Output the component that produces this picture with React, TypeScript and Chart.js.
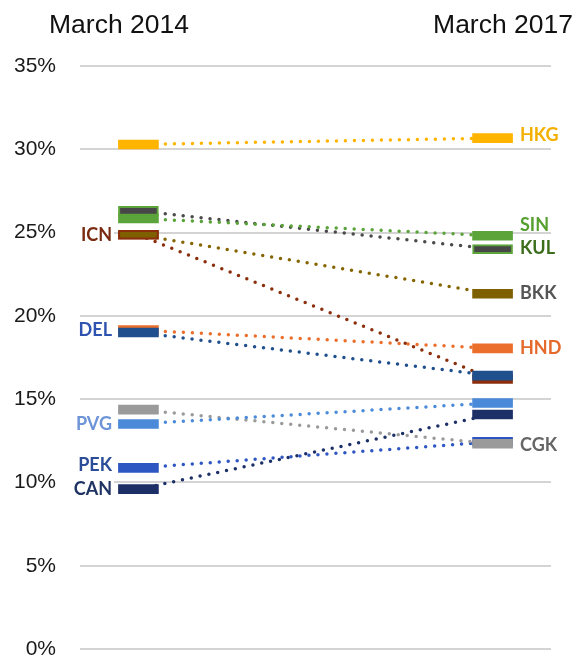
import React, { useEffect, useRef } from "react";
import { Chart, registerables } from "chart.js";

Chart.register(...registerables);

// Airport hub share, March 2014 vs March 2017 (percent)
const airports = ["HKG", "SIN", "KUL", "BKK", "ICN", "HND", "DEL", "PVG", "CGK", "PEK", "CAN"];
const share2014 = [30.29, 25.85, 26.3, 24.87, 24.87, 19.15, 19.0, 13.51, 14.37, 10.87, 9.6];
const share2017 = [30.67, 24.81, 24.01, 21.33, 16.22, 18.05, 16.41, 14.77, 12.32, 12.44, 14.08];
const yTicks = [0, 5, 10, 15, 20, 25, 30, 35];
const periodLabels = ["March 2014", "March 2017"];

// Styling per airport
const barColors = ["#FFB400", "#5AA43A", "#474747", "#7F6000", "#8B2E0C", "#EB6E2B", "#1F4F8C", "#4A8AD8", "#9A9A9A", "#2E56C2", "#1C3067"];
const lineColors = ["#FFB400", "#5AA43A", "#4A4A4A", "#856500", "#8B2E0C", "#EB6E2B", "#1F4F8C", "#4A8AD8", "#9A9A9A", "#2E56C2", "#1C3067"];
const labelColors = ["#F4B000", "#55A02F", "#3C6E1E", "#555555", "#7A2A10", "#E4692A", "#2E54B0", "#6C94D6", "#666666", "#2B4D98", "#1F3463"];
const labelSide = ["R", "R", "R", "R", "L", "R", "L", "L", "R", "L", "L"];
const labelNudge = [-2.5, -10.3, -0.5, -0.7, 0, 0, -2.5, 0, 1.7, -2.5, 0];
const barOnTop = [1, 2, 1, 1, 2, 2, 1, 2, 1, 2, 2];

const BAR_HALF = 0.27; // half of a marker's height, in percent
const FONT_AXIS = "'Liberation Sans', Arial, sans-serif";
const FONT_LABEL = "Lato, 'Open Sans', sans-serif";

const textPlugin = {
  id: "hubText",
  afterDatasetsDraw(chart: any) {
    const { ctx, scales } = chart;
    const y = scales.y;
    ctx.save();
    // period headers
    ctx.fillStyle = "#111111";
    ctx.font = `26.5px ${FONT_AXIS}`;
    ctx.textBaseline = "alphabetic";
    ctx.textAlign = "left";
    ctx.fillText(periodLabels[0], 49, 33);
    ctx.textAlign = "right";
    ctx.fillText(periodLabels[1], 573, 33);

    // airport labels
    ctx.font = `bold 18px ${FONT_LABEL}`;
    ctx.textBaseline = "middle";
    airports.forEach((code, i) => {
      const left = labelSide[i] === "L";
      const v = left ? share2014[i] : share2017[i];
      const py = y.getPixelForValue(v) + labelNudge[i];
      if (left) {
        const w = ctx.measureText(code).width;
        ctx.fillStyle = "#ffffff";
        ctx.fillRect(112 - w - 3, py - 10, w + 5, 20);
        ctx.textAlign = "right";
        ctx.fillStyle = labelColors[i];
        ctx.fillText(code, 112, py);
      } else {
        ctx.textAlign = "left";
        ctx.fillStyle = labelColors[i];
        ctx.fillText(code, 520, py);
      }
    });
    ctx.restore();
  },
};

export default function App() {
  const canvasRef = useRef<HTMLCanvasElement | null>(null);

  useEffect(() => {
    const canvas = canvasRef.current;
    if (!canvas) return;

    const lineSets = airports.map((code, i) => ({
      type: "line" as const,
      label: code + " trend",
      data: [
        { x: 0, y: share2014[i] },
        { x: 1, y: share2017[i] },
      ],
      borderColor: lineColors[i],
      borderWidth: 3.5,
      borderDash: [0, 9],
      borderCapStyle: "round" as const,
      pointRadius: 0,
      tension: 0,
      fill: false,
      order: 10,
    }));

    const barSets = airports.map((code, i) => {
      const bordered2014 = code === "KUL" || code === "BKK";
      const bordered2017 = code === "KUL";
      const border2014 = code === "BKK" ? "#8B2E0C" : code === "KUL" ? "#5AA43A" : barColors[i];
      const border2017 = code === "KUL" ? "#5AA43A" : barColors[i];
      return {
        type: "bar" as const,
        label: code,
        data: [
          { x: 0, y: [share2014[i] - BAR_HALF, share2014[i] + BAR_HALF] },
          { x: 1, y: [share2017[i] - BAR_HALF, share2017[i] + BAR_HALF] },
        ],
        backgroundColor: barColors[i],
        borderColor: [border2014, border2017],
        borderWidth: [bordered2014 ? 2 : 0, bordered2017 ? 2 : 0],
        borderSkipped: false,
        barThickness: 40,
        grouped: false,
        order: barOnTop[i],
      };
    });

    const chart = new Chart(canvas, {
      type: "line",
      data: { datasets: [...barSets, ...lineSets] as any },
      options: {
        responsive: false,
        animation: false,
        layout: { padding: { top: 66, bottom: 13, left: 0, right: 29 } },
        plugins: {
          legend: { display: false },
          tooltip: { enabled: false },
        },
        scales: {
          x: {
            type: "linear",
            display: false,
            min: -0.165,
            max: 1.165,
            offset: false,
          },
          y: {
            type: "linear",
            min: 0,
            max: 35,
            afterBuildTicks: (scale: any) => {
              scale.ticks = yTicks.map((v) => ({ value: v }));
            },
            afterFit: (scale: any) => {
              scale.width = 80;
            },
            border: { display: false },
            grid: {
              color: "#d4d4d4",
              lineWidth: 2,
              drawTicks: true,
              tickLength: 24,
              tickColor: "rgba(0,0,0,0)",
            },
            ticks: {
              padding: 0,
              color: "#1a1a1a",
              font: { family: FONT_AXIS, size: 21 },
              callback: (v: any) => `${v}%`,
            },
          },
        },
      },
      plugins: [textPlugin],
    });

    return () => chart.destroy();
  }, []);

  return (
    <div style={{ position: "fixed", left: 0, top: 0, width: 580, height: 662, background: "#ffffff" }}>
      <canvas ref={canvasRef} width={580} height={662} />
    </div>
  );
}
